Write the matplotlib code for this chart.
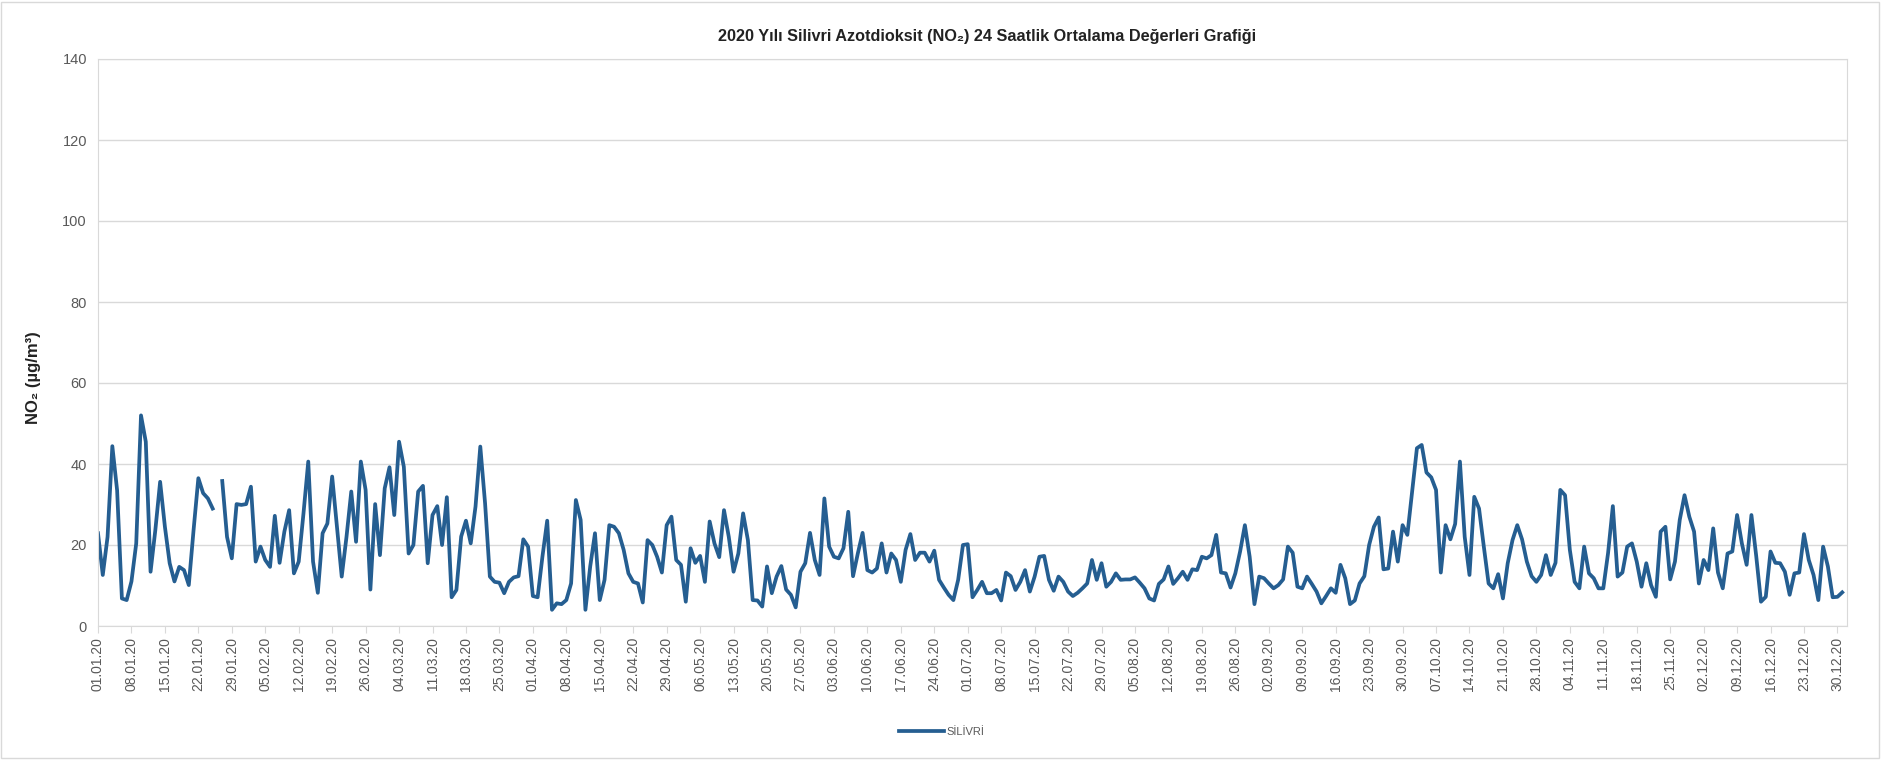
"""2020 Silivri NO2 daily averages, Excel-style line chart."""

import matplotlib
matplotlib.use("Agg")
import matplotlib.pyplot as plt
import matplotlib.patches as mpatches
import numpy as np
import pandas as pd

# daily 24h mean NO2 values (µg/m³), 01.01.2020 - 31.12.2020
jan = [22.9, 12.6, 22, 44.4, 33.5, 6.8, 6.4, 11, 20.4, 52, 45.5, 13.4, 23.7, 35.6, 24.5, 15.5,
       11, 14.6, 13.8, 10.1, 23.7, 36.5, 32.8, 31.5, 29, np.nan, 35.8, 22, 16.7, 30.1, 29.9]
feb = [30.1, 34.4, 15.9, 19.6, 16.3, 14.6, 27.2, 15.6, 23.3, 28.6, 13, 15.9, 27.8, 40.6, 15.9,
       8.2, 22.9, 25.3, 36.9, 24.5, 12.2, 22, 33.2, 20.8, 40.6, 33.6, 9, 30.1, 17.5]
mar = [34, 39.2, 27.4, 45.5, 39.3, 17.9, 20, 33.2, 34.6, 15.5, 27.4, 29.6, 20, 31.8, 7.1, 8.9,
       22.1, 26, 20.4, 29.5, 44.3, 30.3, 12.2, 10.9, 10.7, 8.1, 10.9, 12, 12.3, 21.4, 19.6]
apr = [7.4, 7.1, 17.1, 26, 4, 5.6, 5.4, 6.4, 10.5, 31.1, 26.2, 4, 14.7, 22.9, 6.4, 11.4,
       24.9, 24.5, 22.9, 18.8, 13, 10.9, 10.5, 5.8, 21.2, 20, 17.1, 13.2, 24.9, 27]
may = [16.3, 15.1, 6, 19.2, 15.6, 17.3, 10.9, 25.8, 20.4, 17, 28.6, 22, 13.4, 17.9, 27.8, 21.2,
       6.4, 6.3, 4.8, 14.7, 8.1, 12.2, 14.8, 9, 7.7, 4.6, 13.4, 15.5, 23, 16.3, 12.6]
jun = [31.5, 19.6, 17.1, 16.7, 19.2, 28.2, 12.3, 17.9, 23, 13.8, 13.2, 14.2, 20.4, 13.2, 17.9,
       16.3, 10.9, 18.8, 22.7, 16.3, 18.1, 18.1, 15.9, 18.6, 11.4, 9.5, 7.7, 6.4, 11.4, 20]
jul = [20.2, 7.1, 8.9, 10.9, 8.1, 8.1, 8.9, 6.3, 13.2, 12.3, 8.9, 10.9, 13.8, 8.5, 12.2, 17.1,
       17.3, 11.4, 8.7, 12.2, 10.9, 8.5, 7.4, 8.2, 9.3, 10.5, 16.3, 11.4, 15.5, 9.7, 10.9]
aug = [13, 11.4, 11.5, 11.5, 12, 10.7, 9.3, 6.8, 6.3, 10.4, 11.5, 14.7, 10.4, 11.8, 13.4, 11.4,
       14, 13.8, 17.1, 16.7, 17.5, 22.5, 13.2, 13, 9.5, 13, 18.4, 24.9, 17.1, 5.4, 12.2]
sep = [11.8, 10.5, 9.3, 10.1, 11.5, 19.6, 18.1, 9.7, 9.3, 12.2, 10.4, 8.5, 5.6, 7.4, 9.3, 8.2,
       15.1, 11.8, 5.4, 6.3, 10.5, 12.3, 20, 24.5, 26.8, 14, 14.2, 23.3, 15.9, 24.9]
oct_ = [22.5, 33.2, 43.9, 44.7, 37.9, 36.7, 33.6, 13.2, 24.9, 21.4, 25.2, 40.6, 22, 12.6, 31.9,
        29, 19.6, 10.5, 9.3, 12.8, 6.8, 15.5, 21.2, 24.9, 21.4, 15.9, 12.3, 10.9, 12.6, 17.5, 12.6]
nov = [15.6, 33.6, 32.3, 18.8, 10.9, 9.3, 19.6, 13, 11.8, 9.3, 9.3, 18, 29.6, 12.2, 13.2, 19.6,
       20.4, 15.9, 9.7, 15.5, 10.1, 7.2, 23.3, 24.5, 11.5, 15.9, 26.2, 32.3, 27, 23.3]
dec = [10.5, 16.3, 13.8, 24.1, 13.2, 9.3, 17.9, 18.4, 27.4, 20.4, 15.1, 27.4, 17.3, 6, 7.2,
       18.4, 15.6, 15.5, 13.4, 7.7, 13, 13.2, 22.7, 16.3, 12.6, 6.4, 19.6, 14.7, 7.1, 7.2, 8.3]

no2 = jan + feb + mar + apr + may + jun + jul + aug + sep + oct_ + nov + dec
dates = pd.date_range("2020-01-01", "2020-12-31", freq="D")
tick_dates = dates[::7]
tick_labels = [d.strftime("%d.%m.%y") for d in tick_dates]
y_ticks = [0, 20, 40, 60, 80, 100, 120, 140]

LINE = "#255E91"
GRID = "#d9d9d9"
TXT = "#595959"
FONT = ["Liberation Sans", "DejaVu Sans"]

plt.rcParams["font.family"] = FONT

fig = plt.figure(figsize=(18.9, 7.6), dpi=100)
ax = fig.add_axes([98 / 1890, 1 - 626 / 760, (1847 - 98) / 1890, (626 - 59) / 760])

x = np.arange(len(no2))
ax.plot(x, no2, color=LINE, linewidth=2.7, label="SİLİVRİ", solid_joinstyle="round")

ax.set_xlim(0, 366)
ax.set_ylim(0, 140)
ax.set_yticks(y_ticks)
ax.set_xticks(x[::7])
ax.set_xticklabels(tick_labels, rotation=90, fontsize=10, color=TXT)
ax.tick_params(axis="y", length=0, labelsize=10.5, labelcolor=TXT, pad=8)
ax.tick_params(axis="x", length=5, color=GRID, pad=3)
ax.grid(axis="y", color=GRID, linewidth=1)
ax.set_axisbelow(True)
for s in ax.spines.values():
    s.set_color(GRID)

fig.text(987 / 1890, 1 - 36 / 760,
         "2020 Yılı Silivri Azotdioksit (NO₂) 24 Saatlik Ortalama Değerleri Grafiği",
         ha="center", va="center", fontsize=11.7, fontweight="bold", color="#222222")
fig.text(34 / 1890, 1 - 378 / 760, "NO₂ (µg/m³)", rotation=90, ha="center", va="center",
         fontsize=12, fontweight="bold", color="#222222")

fig.legend(loc="center", bbox_to_anchor=(942 / 1890, 1 - 732 / 760), frameon=False,
           fontsize=8, handlelength=4, handletextpad=0.3, labelcolor=TXT)

fig.patches.append(mpatches.Rectangle((1 / 1890, 2 / 760), 1878 / 1890, 756 / 760,
                                      transform=fig.transFigure, fill=False,
                                      edgecolor=GRID, linewidth=1))

fig.savefig("out.png", dpi=100)
